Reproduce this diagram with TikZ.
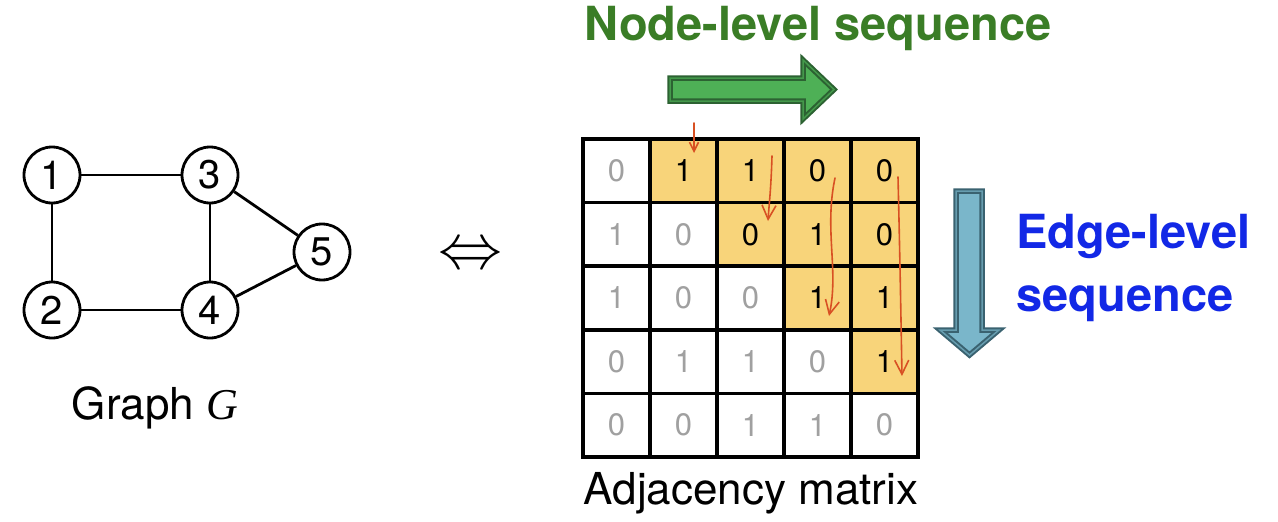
\documentclass[tikz,border=0pt]{standalone}
\usepackage{fontspec}
\setmainfont{TeX Gyre Heros}
\newfontfamily\symbolserif{Liberation Serif}
\usetikzlibrary{arrows.meta}
\usetikzlibrary{positioning}
\definecolor{cellyellow}{RGB}{248,212,122}
\definecolor{zerogray}{RGB}{160,160,160}
\definecolor{penred}{RGB}{216,80,35}
\definecolor{seqgreen}{RGB}{58,125,38}
\definecolor{seqblue}{RGB}{18,40,230}
\definecolor{greenfill}{RGB}{78,176,86}
\definecolor{greenedge}{RGB}{44,98,50}
\definecolor{bluefill}{RGB}{122,182,202}
\definecolor{blueedge}{RGB}{58,98,112}
\tikzset{
	vertex/.style={circle, draw=black, line width=2.8pt, minimum size=56pt, inner sep=0pt,
		font=\fontsize{40}{40}\selectfont},
	link/.style={draw=black, line width=2.8pt},
	cell/.style={draw=black, line width=3.5pt, minimum width=67pt, minimum height=63.6pt,
		inner sep=0pt, font=\fontsize{31}{31}\selectfont},
	uppercell/.style={fill=cellyellow, text=black},
	lowercell/.style={fill=white, text=zerogray},
	pen/.style={draw=penred, line width=1.6pt, line cap=round,
		-{Straight Barb[length=14pt,width=14pt,line width=1.6pt]}},
	smallpen/.style={draw=penred, line width=1.6pt, line cap=round,
		-{Straight Barb[length=9pt,width=9pt,line width=1.6pt]}},
	blockgreen/.style={draw=greenedge, double=greenfill!70!greenedge, double distance=1.5pt,
		line width=2pt, fill=greenfill, line join=miter},
	blockblue/.style={draw=blueedge, double=bluefill!70!blueedge, double distance=1.5pt,
		line width=2pt, fill=bluefill, line join=miter},
	caption/.style={font=\fontsize{44}{44}\selectfont},
	headline/.style={font=\bfseries\fontsize{47}{63}\selectfont},
}
\begin{document}
\begin{tikzpicture}[x=1pt, y=-1pt]
	\useasboundingbox (0,0) rectangle (1278,522);
	% graph G
	\node[vertex] (n1) at (52,175) {1};
	\node[vertex] (n2) at (52,310) {2};
	\node[vertex] (n3) at (210,175) {3};
	\node[vertex] (n4) at (210,310) {4};
	\node[vertex] (n5) at (322,252) {5};
	\draw[link] (n1)--(n3);
	\draw[link] (n1)--(n2);
	\draw[link] (n2)--(n4);
	\draw[link] (n3)--(n4);
	\draw[link] (n3)--(n5);
	\draw[link] (n4)--(n5);
	\node[caption] (gname) at (155,408) {Graph {\symbolserif\itshape G}};
	\node (equiv) at (470,257) {\scalebox{6.4}{$\Leftrightarrow$}};
	% adjacency matrix
	\foreach \row [count=\r] in {{0,1,1,0,0},{1,0,0,1,0},{1,0,0,1,1},{0,1,1,0,1},{0,0,1,1,0}} {
		\foreach \v [count=\c] in \row {
			\ifnum\c>\r\relax \def\cellkind{uppercell}\else\def\cellkind{lowercell}\fi
			\node[cell,\cellkind] (m-\r-\c) at ({549.5+67*\c},{107.2+63.6*\r}) {\v};
		}
	}
	\node[caption] (mname) at (751,493) {Adjacency matrix};
	% reading order, drawn by hand
	\coordinate (r1a) at (694,123); \coordinate (r1b) at (694,153);
	\coordinate (r2a) at (772,156); \coordinate (r2b) at (768,221);
	\coordinate (r3a) at (835,178); \coordinate (r3b) at (829,316);
	\coordinate (r4a) at (898,177); \coordinate (r4b) at (902,376);
	\draw[smallpen] (r1a)--(r1b);
	\draw[pen] (r2a) .. controls (771,190) and (769,205) .. (r2b);
	\draw[pen] (r3a) .. controls (824,230) and (839,270) .. (r3b);
	\draw[pen] (r4a) .. controls (900,260) and (901,320) .. (r4b);
	% sequence directions
	\node[headline, text=seqgreen] (nodeseq) at (818,28) {Node-level sequence};
	\draw[blockgreen] (670,78)--(803,78)--(803,60)--(834,89.5)--(803,119)--(803,101)--(670,101)--cycle;
	\draw[blockblue] (956,191)--(982,191)--(982,330)--(999,330)--(969.5,355)--(940,330)--(956,330)--cycle;
	\node[headline, text=seqblue, align=left, anchor=west] (edgeseq) at (1013,268) {Edge-level\\sequence};
\end{tikzpicture}
\end{document}
